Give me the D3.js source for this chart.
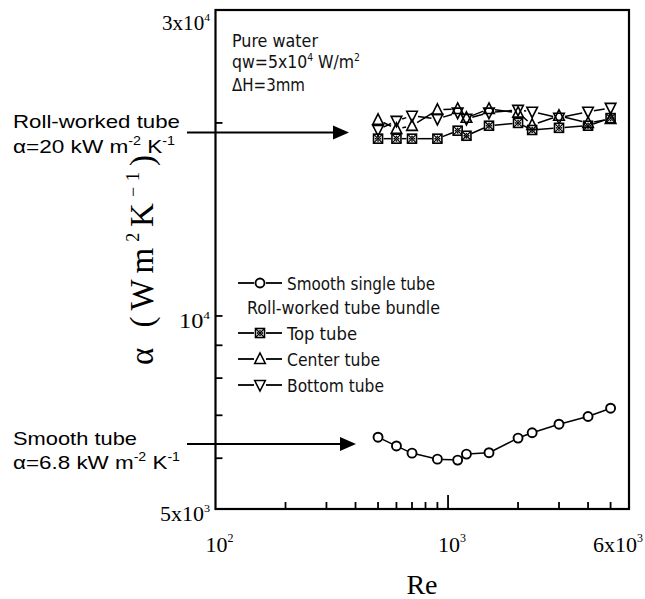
<!DOCTYPE html>
<html>
<head>
<meta charset="utf-8">
<script src="https://cdn.jsdelivr.net/npm/d3@7"></script>
<style>
  html, body { margin: 0; padding: 0; background: #fff; }
  svg { display: block; }
</style>
</head>
<body>
<svg id="chart" width="645" height="599"></svg>
<script>
// ---------------- DATA ----------------
const re = [500, 600, 700, 900, 1100, 1200, 1500, 2000, 2300, 3000, 4000, 5000];
const smoothSingle = [6470, 6270, 6110, 5980, 5960, 6090, 6120, 6450, 6575, 6780, 6970, 7180];
const topTube    = [18900, 18900, 18900, 18900, 19450, 19100, 19800, 20000, 19500, 19650, 19800, 20350];
const centerTube = [20220, 19580, 19790, 20960, 21030, 20370, 21030, 20750, 19860, 20520, 20000, 20290];
const bottomTube = [19510, 20150, 20520, 20290, 20750, 20290, 20750, 20960, 20820, 20370, 20820, 21110];

const xMinorTicks = [200, 300, 400, 500, 600, 700, 800, 900, 2000, 3000, 4000, 5000];
const xMajorTicks = [1000];
const yMinorTicks = [6000, 7000, 8000, 9000, 20000];
const yMajorTicks = [10000];
const xTickLabels = [{v: 100, base: "10", sup: "2"}, {v: 1000, base: "10", sup: "3"}, {v: 6000, base: "6x10", sup: "3"}];
const yTickLabels = [{v: 30000, base: "3x10", sup: "4"}, {v: 10000, base: "10", sup: "4"}, {v: 5000, base: "5x10", sup: "3"}];
const legendItems = [
  {label: "Smooth single tube", marker: "circle"},
  {label: "Top tube", marker: "square"},
  {label: "Center tube", marker: "up"},
  {label: "Bottom tube", marker: "down"}
];

// ---------------- SETUP ----------------
const svg = d3.select("#chart");
const L = 215.5, R = 629, T = 10, B = 509;
const x = d3.scaleLog().domain([100, 6000]).range([L, R]);
const y = d3.scaleLog().domain([5000, 30000]).range([B, T]);

const serif = "'Liberation Serif', 'DejaVu Serif', serif";
const plotFont = "'DejaVu Sans Condensed', 'DejaVu Sans', sans-serif";
const arial = "'Liberation Sans', Arial, sans-serif";

function fitText(sel, len, mode) {
  sel.attr("textLength", len).attr("lengthAdjust", mode || "spacingAndGlyphs");
}

// frame
svg.append("rect").attr("x", L).attr("y", T).attr("width", R - L).attr("height", B - T)
  .attr("fill", "none").attr("stroke", "#000").attr("stroke-width", 2.2);

// x ticks (inward)
svg.append("g").selectAll("line").data(xMinorTicks).join("line")
  .attr("x1", d => x(d)).attr("x2", d => x(d)).attr("y1", B).attr("y2", B - 7)
  .attr("stroke", "#000").attr("stroke-width", 1.8);
svg.append("g").selectAll("line").data(xMajorTicks).join("line")
  .attr("x1", d => x(d)).attr("x2", d => x(d)).attr("y1", B).attr("y2", B - 14)
  .attr("stroke", "#000").attr("stroke-width", 1.8);
// y ticks (inward)
svg.append("g").selectAll("line").data(yMinorTicks.concat(yMajorTicks)).join("line")
  .attr("x1", L).attr("x2", L + 7).attr("y1", d => y(d)).attr("y2", d => y(d))
  .attr("stroke", "#000").attr("stroke-width", 1.8);

// x tick labels
xTickLabels.forEach((t, i) => {
  const txt = svg.append("text").attr("font-family", serif).attr("font-size", 22)
    .attr("y", B + 43);
  if (i === xTickLabels.length - 1) {
    txt.attr("x", 643).attr("text-anchor", "end");
  } else {
    txt.attr("x", x(t.v) + 4).attr("text-anchor", "middle");
  }
  txt.append("tspan").text(t.base);
  txt.append("tspan").attr("font-size", 12).attr("dy", -10).text(t.sup);
});
// y tick labels
const yLabelLens = [48, 31, 50];
yTickLabels.forEach((t, i) => {
  const txt = svg.append("text").attr("font-family", serif).attr("font-size", 20)
    .attr("x", 210).attr("y", Math.max(y(t.v) + 12, 30)).attr("text-anchor", "end");
  txt.append("tspan").text(t.base);
  txt.append("tspan").attr("font-size", 11).attr("dy", -9).text(t.sup);
  fitText(txt, yLabelLens[i]);
});

// axis titles
svg.append("text").attr("font-family", serif).attr("font-size", 28)
  .attr("x", 422).attr("y", 594).attr("text-anchor", "middle").text("Re");

const yl = svg.append("text").attr("font-family", serif).attr("font-size", 33)
  .attr("transform", "translate(153,150) rotate(-90)").attr("text-anchor", "start")
  .attr("x", -215).attr("y", 0);
yl.append("tspan").text("α (Wm");
yl.append("tspan").attr("font-size", 18).attr("dy", -14).text("2");
yl.append("tspan").attr("dy", 14).text("K");
yl.append("tspan").attr("font-size", 18).attr("dy", -14).text("−1");
yl.append("tspan").attr("dy", 14).text(")");
fitText(yl, 210, "spacing");

// in-plot condition texts
const cond = svg.append("g").attr("font-family", plotFont).attr("font-size", 17).attr("fill", "#111");
fitText(cond.append("text").attr("x", 232).attr("y", 47).text("Pure water"), 86);
const qw = cond.append("text").attr("x", 232).attr("y", 68);
qw.append("tspan").text("qw=5x10");
qw.append("tspan").attr("font-size", 10).attr("dy", -7).text("4");
qw.append("tspan").attr("dy", 7).text(" W/m");
qw.append("tspan").attr("font-size", 10).attr("dy", -7).text("2");
fitText(qw, 128);
fitText(cond.append("text").attr("x", 232).attr("y", 91).text("ΔH=3mm"), 73);

// ---------------- MARKERS ----------------
function drawMarker(g, type, cx, cy) {
  const sw = 1.6;
  if (type === "circle") {
    g.append("circle").attr("cx", cx).attr("cy", cy).attr("r", 4.5)
      .attr("fill", "#fff").attr("stroke", "#000").attr("stroke-width", 1.9);
  } else if (type === "square") {
    const s = 4.5;
    g.append("rect").attr("x", cx - s).attr("y", cy - s).attr("width", 2 * s).attr("height", 2 * s)
      .attr("fill", "#fff").attr("stroke", "#000").attr("stroke-width", sw);
    g.append("path").attr("d", `M${cx - s},${cy - s}L${cx + s},${cy + s}M${cx + s},${cy - s}L${cx - s},${cy + s}`)
      .attr("stroke", "#000").attr("stroke-width", 1.2);
    [[-2.2, 0], [2.2, 0], [0, -2.2], [0, 2.2]].forEach(o =>
      g.append("circle").attr("cx", cx + o[0]).attr("cy", cy + o[1]).attr("r", 0.9).attr("fill", "#000"));
  } else if (type === "up") {
    g.append("path").attr("d", `M${cx},${cy - 6}L${cx + 5.3},${cy + 4.5}L${cx - 5.3},${cy + 4.5}Z`)
      .attr("fill", "none").attr("stroke", "#000").attr("stroke-width", sw);
  } else if (type === "down") {
    g.append("path").attr("d", `M${cx},${cy + 6}L${cx + 5.3},${cy - 4.5}L${cx - 5.3},${cy - 4.5}Z`)
      .attr("fill", "none").attr("stroke", "#000").attr("stroke-width", sw);
  }
}

function drawSeries(values, type, gap) {
  const g = svg.append("g");
  const pts = re.map((r, i) => [x(r), y(values[i])]);
  for (let i = 0; i < pts.length - 1; i++) {
    const [x1, y1] = pts[i], [x2, y2] = pts[i + 1];
    const dx = x2 - x1, dy = y2 - y1, len = Math.hypot(dx, dy);
    if (len <= 2 * gap) continue;
    const ux = dx / len, uy = dy / len;
    g.append("line")
      .attr("x1", x1 + ux * gap).attr("y1", y1 + uy * gap)
      .attr("x2", x2 - ux * gap).attr("y2", y2 - uy * gap)
      .attr("stroke", "#000").attr("stroke-width", 1.5);
  }
  pts.forEach(p => drawMarker(g, type, p[0], p[1]));
}

drawSeries(smoothSingle, "circle", 5);
drawSeries(topTube, "square", 5.5);
drawSeries(centerTube, "up", 6);
drawSeries(bottomTube, "down", 6);

// ---------------- LEGEND ----------------
const leg = svg.append("g").attr("font-family", plotFont).attr("font-size", 17).attr("fill", "#111");
const legRows = [283, 333, 359, 385];
const legLens = [148, 70, 93, 97];
legendItems.forEach((it, i) => {
  const cy = legRows[i];
  leg.append("line").attr("x1", 238).attr("x2", 254).attr("y1", cy).attr("y2", cy)
    .attr("stroke", "#000").attr("stroke-width", 1.8);
  leg.append("line").attr("x1", 266).attr("x2", 282).attr("y1", cy).attr("y2", cy)
    .attr("stroke", "#000").attr("stroke-width", 1.8);
  drawMarker(leg, it.marker, 260, cy);
  fitText(leg.append("text").attr("x", 287).attr("y", cy + 7).text(it.label), legLens[i]);
});
fitText(leg.append("text").attr("x", 247).attr("y", 314).text("Roll-worked tube bundle"), 193);

// ---------------- ANNOTATIONS ----------------
function annotation(line1, valueText, y1, y2, arrowY, tipX, len1, len2) {
  const g = svg.append("g").attr("font-family", arial).attr("font-size", 19).attr("fill", "#000");
  fitText(g.append("text").attr("x", 13).attr("y", y1).text(line1), len1);
  const t = g.append("text").attr("x", 13).attr("y", y2);
  t.append("tspan").text(valueText + " kW m");
  t.append("tspan").attr("font-size", 12).attr("dy", -8).text("-2");
  t.append("tspan").attr("dy", 8).text(" K");
  t.append("tspan").attr("font-size", 12).attr("dy", -8).text("-1");
  fitText(t, len2);
  svg.append("line").attr("x1", 187).attr("x2", tipX - 12).attr("y1", arrowY).attr("y2", arrowY)
    .attr("stroke", "#000").attr("stroke-width", 2);
  svg.append("path").attr("d", `M${tipX},${arrowY}L${tipX - 16},${arrowY - 7}L${tipX - 16},${arrowY + 7}Z`)
    .attr("fill", "#000");
}
annotation("Roll-worked tube", "α=20", 128, 153, 132.5, 349, 167, 162);
annotation("Smooth tube", "α=6.8", 445, 469, 444, 356, 124, 167);
</script>
</body>
</html>
